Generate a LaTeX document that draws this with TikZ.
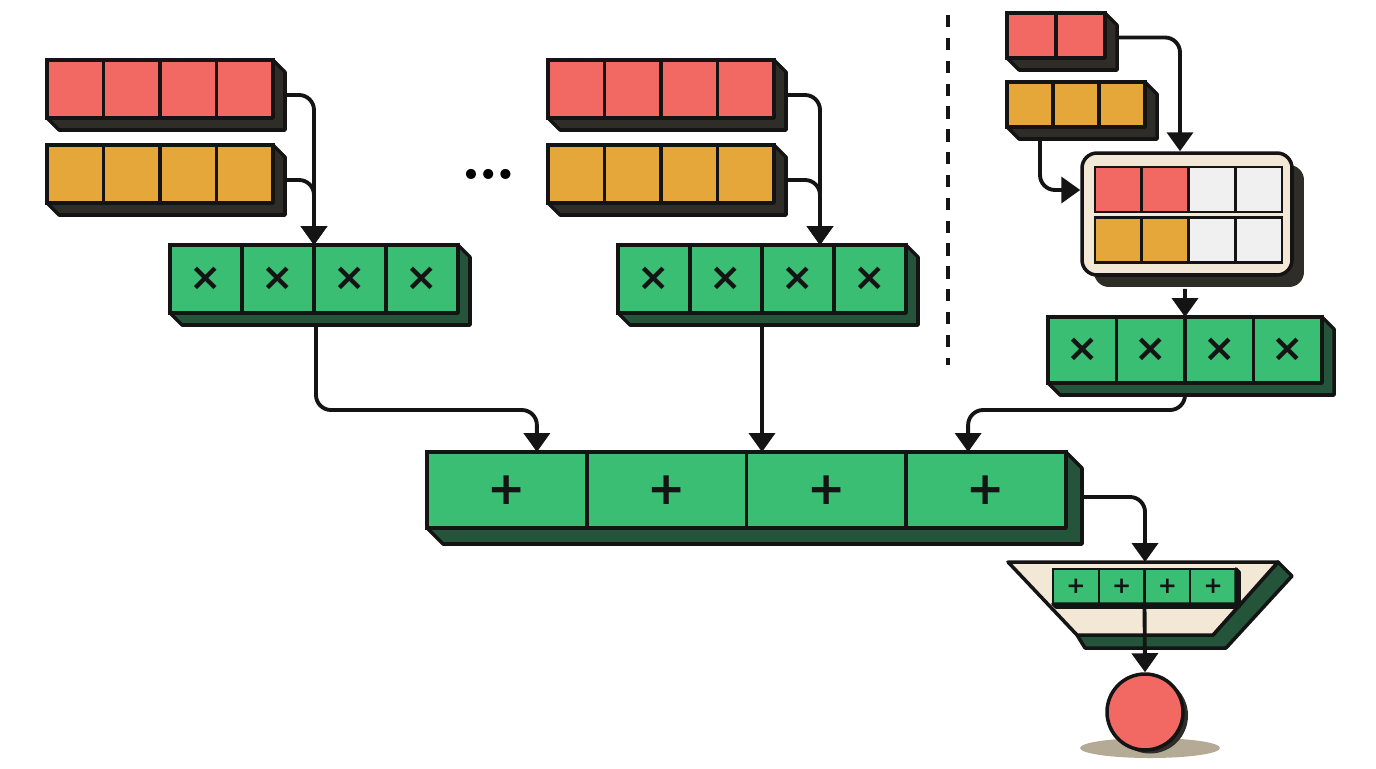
\documentclass[tikz,border=0pt]{standalone}
\usepackage{fontspec}
\usepackage{xcolor}
\usepackage{amsmath}
\usepackage{tikz}
\usetikzlibrary{arrows.meta, positioning, calc, shadows}
\newfontfamily\markfont{DejaVu Sans}
\definecolor{myred}{RGB}{242,104,98}
\definecolor{myorange}{RGB}{229,166,58}
\definecolor{mygreen}{RGB}{58,190,116}
\definecolor{mydeep}{RGB}{36,84,58}
\definecolor{myshade}{RGB}{46,45,40}
\definecolor{myink}{RGB}{20,20,20}
\definecolor{mycream}{RGB}{243,232,214}
\definecolor{myempty}{RGB}{240,240,240}
\definecolor{myground}{RGB}{180,170,150}
\tikzset{
  cell/.style={rectangle, draw=myink, line width=2pt,
    inner sep=0pt, outer sep=0pt, text=myink},
  redcell/.style={cell, fill=myred, minimum width=1.13cm, minimum height=1.16cm},
  orangecell/.style={cell, fill=myorange, minimum width=1.13cm, minimum height=1.16cm},
  mulcell/.style={cell, fill=mygreen, minimum width=1.44cm, minimum height=1.36cm,
    font=\fontsize{22}{22}\selectfont\markfont\bfseries},
  smallred/.style={cell, fill=myred, minimum width=0.98cm, minimum height=0.9cm},
  smallorange/.style={cell, fill=myorange, minimum width=0.92cm, minimum height=0.9cm},
  packcell/.style={cell, line width=1.6pt, minimum width=0.935cm, minimum height=0.9cm},
  rmulcell/.style={cell, fill=mygreen, minimum width=1.37cm, minimum height=1.32cm,
    font=\fontsize{22}{22}\selectfont\markfont\bfseries},
  addcell/.style={cell, fill=mygreen, minimum width=3.195cm, minimum height=1.52cm,
    font=\fontsize{26}{26}\selectfont\markfont\bfseries},
  minicell/.style={cell, fill=mygreen, line width=1.4pt, minimum width=0.915cm,
    minimum height=0.7cm, font=\fontsize{13}{13}\selectfont\markfont\bfseries},
  arrow/.style={-{Triangle[width=0.52cm,length=0.38cm]}, line width=2.2pt,
    color=myink, rounded corners=0.3cm}
}
% extruded side of a bar of cells
\newcommand{\extrude}[4]{%
  \filldraw[fill=#3, draw=myink, line width=2pt, line join=round]
    (#2.north east) -- ($(#2.north east)+(#4,#4)$) -- ($(#2.south east)+(#4,#4)$)
    -- ($(#1.south west)+(#4,#4)$) -- (#1.south west) -- (#2.south east) -- cycle;}

\begin{document}
\begin{tikzpicture}[x=0.02cm, y=-0.02cm, every node/.style={font=\small}]
  \useasboundingbox (0,0) rectangle (1376,768);

  % Left group
  \foreach \i in {1,...,4} {
    \node[redcell] (la\i) at ({47+56.5*(\i-0.5)},89) {};
    \node[orangecell] (lb\i) at ({47+56.5*(\i-0.5)},174) {};
    \node[mulcell] (lm\i) at ({170+72*(\i-0.5)},279) {×};
  }
  \extrude{la1}{la4}{myshade}{12}
  \extrude{lb1}{lb4}{myshade}{12}
  \extrude{lm1}{lm4}{mydeep}{12}

  \node[font=\fontsize{40}{40}\selectfont\bfseries] (dots) at (489,174) {\ldots};

  % Middle group
  \foreach \i in {1,...,4} {
    \node[redcell] (ma\i) at ({548+56.5*(\i-0.5)},89) {};
    \node[orangecell] (mb\i) at ({548+56.5*(\i-0.5)},174) {};
    \node[mulcell] (mm\i) at ({618+72*(\i-0.5)},279) {×};
  }
  \extrude{ma1}{ma4}{myshade}{12}
  \extrude{mb1}{mb4}{myshade}{12}
  \extrude{mm1}{mm4}{mydeep}{12}

  % Separator
  \draw[myink, line width=1.8pt, dash pattern=on 7pt off 6pt] (948,15) -- (948,365);

  % Right group: short inputs, padded pack
  \foreach \i in {1,2} {
    \node[smallred] (ra\i) at ({1007+49*(\i-0.5)},35.5) {};
  }
  \foreach \i in {1,...,3} {
    \node[smallorange] (rb\i) at ({1007+46*(\i-0.5)},104.5) {};
  }
  \extrude{ra1}{ra2}{myshade}{12}
  \extrude{rb1}{rb3}{myshade}{12}

  \node[rectangle, draw=myink, fill=mycream, line width=2pt, rounded corners=0.3cm,
    minimum width=4.2cm, minimum height=2.44cm,
    drop shadow={shadow xshift=0.24cm, shadow yshift=-0.24cm, fill=myshade, opacity=1}]
    (box) at (1187,214) {};
  \foreach \i in {1,2} {
    \node[packcell, fill=myred] (ba\i) at ({1095+46.75*(\i-0.5)},189.5) {};
    \node[packcell, fill=myorange] (bb\i) at ({1095+46.75*(\i-0.5)},240) {};
  }
  \foreach \i in {3,4} {
    \node[packcell, fill=myempty] (ba\i) at ({1095+46.75*(\i-0.5)},189.5) {};
    \node[packcell, fill=myempty] (bb\i) at ({1095+46.75*(\i-0.5)},240) {};
  }

  \foreach \i in {1,...,4} {
    \node[rmulcell] (rg\i) at ({1048+68.5*(\i-0.5)},350) {×};
  }
  \extrude{rg1}{rg4}{mydeep}{12}

  % Sum bar
  \foreach \i in {1,...,4} {
    \node[addcell] (pb\i) at ({427+159.75*(\i-0.5)},490) {+};
  }
  \extrude{pb1}{pb4}{mydeep}{16}

  % Reduction funnel
  \filldraw[fill=mydeep, draw=myink, line width=2pt, line join=round]
    (1278,562) -- (1292,576) -- (1226,648) -- (1085,648) -- (1077,635) -- (1213,635) -- cycle;
  \filldraw[fill=mycream, draw=myink, line width=2pt, line join=round]
    (1008,562) -- (1278,562) -- (1213,635) -- (1077,635) -- cycle;
  \coordinate (funneltop) at (1145,562);
  \foreach \i in {1,...,4} {
    \node[minicell] (fm\i) at ({1053+45.75*(\i-0.5)},586.5) {+};
  }
  \extrude{fm1}{fm4}{mydeep}{3}

  % Result
  \fill[myground] (1150,748) ellipse [x radius=1.4cm, y radius=0.2cm];
  \node[circle, draw=myink, fill=myred, line width=2pt, minimum size=1.52cm,
    drop shadow={shadow xshift=0.1cm, shadow yshift=-0.07cm, fill=myshade, opacity=1}]
    (dot) at (1145,712) {};

  % Connections
  \draw[arrow] ($(la4.east)+(12,6)$) -| (lm2.north east);
  \draw[arrow] ($(lb4.east)+(12,6)$) -| (lm2.north east);
  \draw[arrow] ($(ma4.east)+(12,6)$) -| ($(mm3.north)+(22,0)$);
  \draw[arrow] ($(mb4.east)+(12,6)$) -| ($(mm3.north)+(22,0)$);
  \draw[arrow] ($(ra2.east)+(12,2)$) -| ($(box.north)+(-7,0)$);
  \draw[arrow] ($(rb1.south)+(10,12)$) |- ($(box.west)+(0,-24)$);
  \draw[arrow] ($(box.south)+(-2,12)$) -- (rg2.north east);

  \draw[arrow] ($(lm2.south east)+(2,12)$) |- ($(pb1.north)+(30,-42)$) -- ($(pb1.north)+(30,0)$);
  \draw[arrow] ($(mm2.south east)+(0,12)$) -- (mm2.south east |- pb3.north);
  \draw[arrow] ($(rg2.south east)+(0,12)$) |- ($(pb4.north)+(-18,-42)$) -- ($(pb4.north)+(-18,0)$);

  \draw[arrow] ($(pb4.east)+(16,7)$) -| (funneltop);
  \draw[arrow] (fm2.south east) -- (dot.north);
\end{tikzpicture}
\end{document}
